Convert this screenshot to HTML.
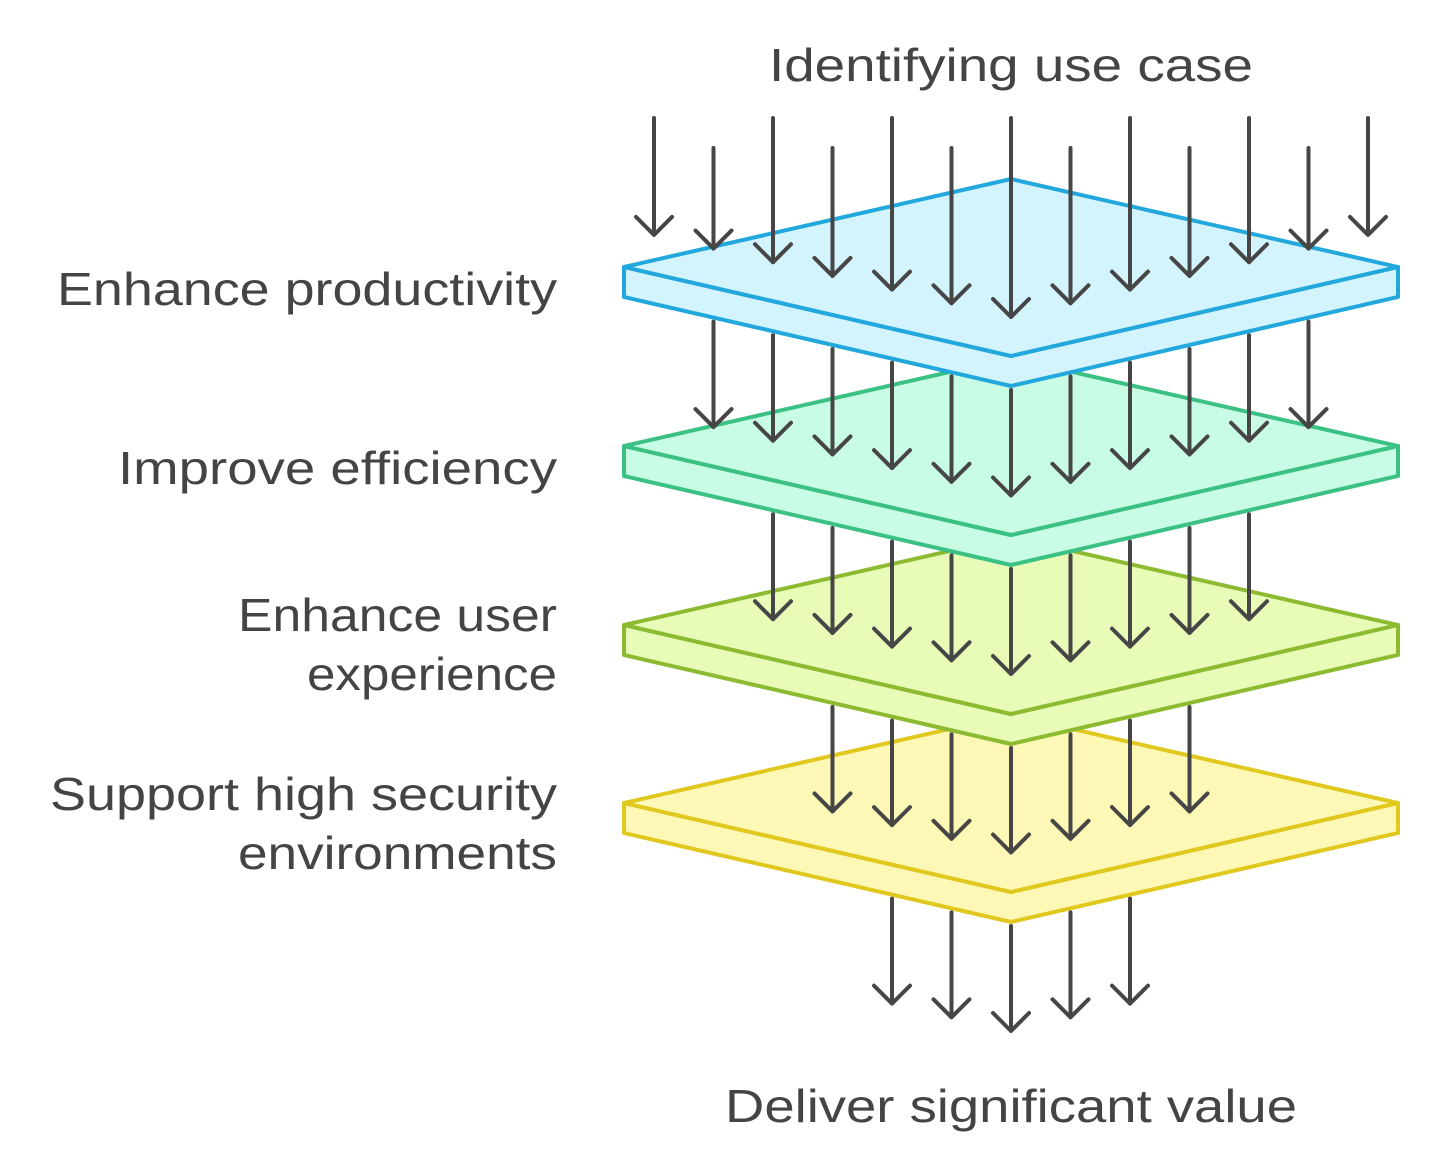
<!DOCTYPE html>
<html><head><meta charset="utf-8"><style>
html,body{margin:0;padding:0;background:#fff;}
svg{display:block;}
text{font-family:"Liberation Sans",sans-serif;fill:#444;font-size:46px;}
</style></head><body>
<svg id="s" width="1430" height="1160" viewBox="0 0 1430 1160" xmlns="http://www.w3.org/2000/svg">
<g id="layers"></g>
<g id="arrows" stroke="#464646" stroke-width="4" fill="none" stroke-linecap="round" stroke-linejoin="round"></g>
<text x="1011" y="81" text-anchor="middle" textLength="484" lengthAdjust="spacingAndGlyphs">Identifying use case</text>
<text x="557" y="305" text-anchor="end" textLength="500" lengthAdjust="spacingAndGlyphs">Enhance productivity</text>
<text x="557" y="484" text-anchor="end" textLength="439" lengthAdjust="spacingAndGlyphs">Improve efficiency</text>
<text x="557" y="631" text-anchor="end" textLength="319" lengthAdjust="spacingAndGlyphs">Enhance user</text>
<text x="557" y="690" text-anchor="end" textLength="250" lengthAdjust="spacingAndGlyphs">experience</text>
<text x="557" y="810" text-anchor="end" textLength="507" lengthAdjust="spacingAndGlyphs">Support high security</text>
<text x="557" y="869" text-anchor="end" textLength="319" lengthAdjust="spacingAndGlyphs">environments</text>
<text x="1011" y="1122" text-anchor="middle" textLength="572" lengthAdjust="spacingAndGlyphs">Deliver significant value</text>
</svg>
<script>
(function(){
var NS="http://www.w3.org/2000/svg";
var L=document.getElementById("layers"),A=document.getElementById("arrows");
var cols=[
 {f:"#d3f3fd",s:"#22a8dc"},
 {f:"#c9fce4",s:"#3cc184"},
 {f:"#e8fcb8",s:"#8cbb32"},
 {f:"#fef8b6",s:"#e0c81e"}];
var base=[267,446,625,803];
function poly(pts,f,s){var p=document.createElementNS(NS,"polygon");p.setAttribute("points",pts);p.setAttribute("fill",f);p.setAttribute("stroke",s);p.setAttribute("stroke-width","4");p.setAttribute("stroke-linejoin","round");return p;}
for(var k=3;k>=0;k--){
 var y=base[k],c=cols[k],t=30;
 var g=document.createElementNS(NS,"g");
 g.appendChild(poly("624,"+y+" 1011,"+(y+89)+" 1398,"+y+" 1398,"+(y+t)+" 1011,"+(y+89+t)+" 624,"+(y+t),c.f,c.s));
 g.appendChild(poly("624,"+y+" 1011,"+(y-88)+" 1398,"+y+" 1011,"+(y+89),c.f,c.s));
 L.appendChild(g);
}
function edge(x,Ly){return Ly+89*(1-Math.abs(x-1011)/387);}
function arrow(x,y1,y2){
 var p=document.createElementNS(NS,"path");
 p.setAttribute("d","M"+x+" "+y1+"L"+x+" "+y2+"M"+(x-18)+" "+(y2-18)+"L"+x+" "+y2+"L"+(x+18)+" "+(y2-18));
 A.appendChild(p);
}
var allx=[];for(var i=0;i<13;i++)allx.push(654+i*59.5);
for(var k=0;k<5;k++){
 for(var i=k;i<13-k;i++){
  var x=allx[i];
  var Ly=267+178.5*k;
  var tip=edge(x,Ly)-39;
  var start;
  if(k==0){start=(i%2==0)?118:148;}
  else{start=edge(x,base[k-1]+30)+4;}
  arrow(x,start,tip);
 }
}
})();
</script>
</body></html>
